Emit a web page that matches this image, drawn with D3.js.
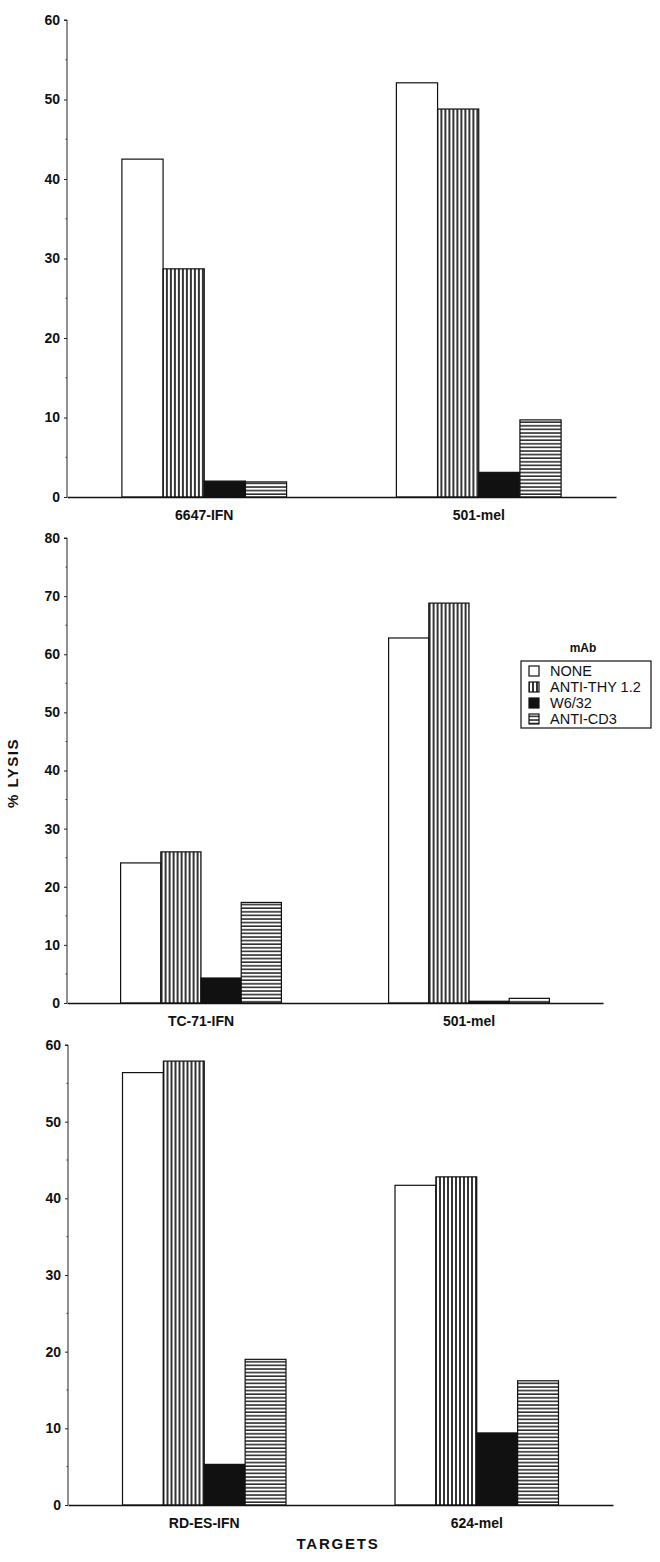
<!DOCTYPE html>
<html><head><meta charset="utf-8">
<script src="https://cdn.jsdelivr.net/npm/d3@7"></script>
<style>
body{margin:0;background:#fff;}
svg{display:block;font-family:"Liberation Sans",Arial,sans-serif;}
</style></head>
<body>
<svg id="chart" width="660" height="1562"></svg>
<script>
const series = ["NONE", "ANTI-THY 1.2", "W6/32", "ANTI-CD3"];
const targets1 = ["6647-IFN", "501-mel"];
const values1 = [[42.5, 28.7, 2.0, 1.9], [52.1, 48.8, 3.1, 9.7]];
const targets2 = ["TC-71-IFN", "501-mel"];
const values2 = [[24.1, 26.0, 4.3, 17.3], [62.8, 68.8, 0.3, 0.8]];
const targets3 = ["RD-ES-IFN", "624-mel"];
const values3 = [[56.4, 57.9, 5.3, 19.0], [41.7, 42.8, 9.4, 16.2]];
const ticks1 = [0, 10, 20, 30, 40, 50, 60];
const ticks2 = [0, 10, 20, 30, 40, 50, 60, 70, 80];
const ticks3 = [0, 10, 20, 30, 40, 50, 60];
const yTitle = "% LYSIS";
const xTitle = "TARGETS";
const legendTitle = "mAb";

const svg = d3.select("#chart");
const defs = svg.append("defs");
const pv = defs.append("pattern").attr("id", "vlines").attr("patternUnits", "userSpaceOnUse")
  .attr("width", 4).attr("height", 4);
pv.append("rect").attr("width", 4).attr("height", 4).attr("fill", "#fff");
pv.append("line").attr("x1", 1).attr("x2", 1).attr("y1", 0).attr("y2", 4).attr("stroke", "#111").attr("stroke-width", 1.7);
const ph = defs.append("pattern").attr("id", "hlines").attr("patternUnits", "userSpaceOnUse")
  .attr("width", 4).attr("height", 3.6);
ph.append("rect").attr("width", 4).attr("height", 3.6).attr("fill", "#fff");
ph.append("line").attr("x1", 0).attr("x2", 4).attr("y1", 1).attr("y2", 1).attr("stroke", "#111").attr("stroke-width", 1.4);

const fills = ["#fff", "url(#vlines)", "#111", "url(#hlines)"];
const color = d3.scaleOrdinal().domain(series).range(fills);

const panels = [
  {targets: targets1, values: values1, ticks: ticks1, xr: [67, 616], yr: [497, 20]},
  {targets: targets2, values: values2, ticks: ticks2, xr: [67, 603], yr: [1003, 538]},
  {targets: targets3, values: values3, ticks: ticks3, xr: [68, 613], yr: [1505, 1045]}
];

panels.forEach((p, pi) => {
  const g = svg.append("g");
  const x0 = d3.scaleBand().domain(p.targets).range(p.xr).paddingInner(0.4).paddingOuter(0.2);
  const x1 = d3.scaleBand().domain(series).range([0, x0.bandwidth()]).padding(0);
  const y = d3.scaleLinear().domain([0, d3.max(p.ticks)]).range(p.yr);

  const minors = d3.range(5, d3.max(p.ticks), 10);
  g.selectAll(".minor").data(minors).join("line")
    .attr("x1", p.xr[0] - 1.5).attr("x2", p.xr[0])
    .attr("y1", d => y(d)).attr("y2", d => y(d))
    .attr("stroke", "#444").attr("stroke-width", 1);

  const yAxis = d3.axisLeft(y).tickValues(p.ticks).tickSize(3).tickPadding(4).tickFormat(d3.format("d"));
  const ya = g.append("g").attr("transform", `translate(${p.xr[0]},0)`).call(yAxis);
  ya.select(".domain").attr("stroke", "#222").attr("stroke-width", 1).attr("d", `M-3,${p.yr[1]}H0V${p.yr[0]}`);
  ya.selectAll(".tick line").attr("stroke", "#222");
  ya.selectAll(".tick text").attr("font-size", 14).attr("font-weight", "bold").attr("fill", "#111")
    .attr("font-family", "'Liberation Sans',Arial,sans-serif");

  const groups = g.selectAll(".grp").data(p.targets).join("g")
    .attr("transform", d => `translate(${x0(d)},0)`);
  groups.selectAll("rect").data((d, i) => series.map((s, j) => ({s, v: p.values[i][j]})))
    .join("rect")
    .attr("x", d => x1(d.s)).attr("width", x1.bandwidth())
    .attr("y", d => y(d.v)).attr("height", d => y(0) - y(d.v))
    .attr("fill", d => color(d.s)).attr("stroke", "#111").attr("stroke-width", 1.2);

  const xAxis = d3.axisBottom(x0).tickSize(0).tickPadding(13);
  const xa = g.append("g").attr("transform", `translate(0,${y(0)})`).call(xAxis);
  xa.select(".domain").attr("stroke", "#111").attr("stroke-width", 1.6);
  xa.selectAll(".tick text").attr("font-size", 14).attr("font-weight", "bold").attr("fill", "#111")
    .attr("font-family", "'Liberation Sans',Arial,sans-serif");
});

svg.append("text").attr("transform", "translate(18,773) rotate(-90)")
  .attr("text-anchor", "middle").attr("font-size", 15).attr("font-weight", "bold")
  .attr("letter-spacing", 1.5).attr("fill", "#111").text(yTitle);

svg.append("text").attr("x", 338).attr("y", 1549).attr("text-anchor", "middle")
  .attr("font-size", 15).attr("font-weight", "bold").attr("letter-spacing", 1.8)
  .attr("fill", "#111").text(xTitle);

const lg = svg.append("g");
lg.append("text").attr("x", 583).attr("y", 652).attr("text-anchor", "middle")
  .attr("font-size", 12).attr("font-weight", "bold").attr("fill", "#111").text(legendTitle);
lg.append("rect").attr("x", 521).attr("y", 661).attr("width", 130).attr("height", 67)
  .attr("fill", "#fff").attr("stroke", "#111").attr("stroke-width", 1.2);
const ly = d3.scaleBand().domain(series).range([663, 727]);
const items = lg.selectAll(".li").data(series).join("g")
  .attr("transform", d => `translate(0,${ly(d) + ly.bandwidth() / 2})`);
items.append("rect").attr("x", 529).attr("y", -5).attr("width", 10).attr("height", 10)
  .attr("fill", d => color(d)).attr("stroke", "#111").attr("stroke-width", 1.2);
items.append("text").attr("x", 550).attr("y", 5).attr("font-size", 14.5).attr("fill", "#111")
  .text(d => d);
</script>
</body></html>
